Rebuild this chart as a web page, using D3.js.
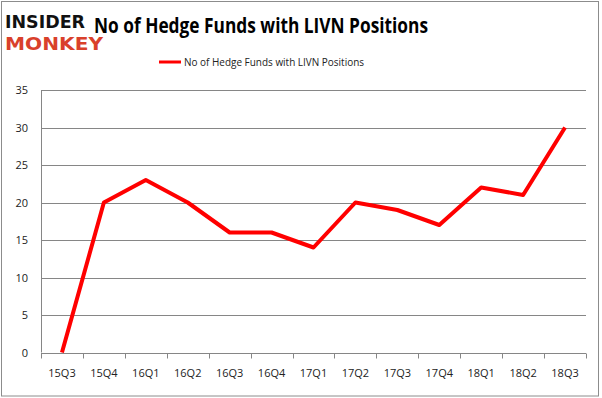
<!DOCTYPE html>
<meta charset="utf-8">
<html>
  <head>
    <title>No of Hedge Funds with LIVN Positions</title>
    <style>
      body { margin: 0; background: #fff; font-family: "Open Sans", sans-serif; }
    </style>
  </head>
  <body>
    <div id="linechart"></div>
    <script src="https://d3js.org/d3.v7.min.js"></script>
    <script>

      // data
      const quarters = ["15Q3","15Q4","16Q1","16Q2","16Q3","16Q4","17Q1","17Q2","17Q3","17Q4","18Q1","18Q2","18Q3"];
      const funds = [0, 20, 23, 20, 16, 16, 14, 20, 19, 17, 22, 21, 30];
      const yTicks = [0, 5, 10, 15, 20, 25, 30, 35];
      const seriesName = "No of Hedge Funds with LIVN Positions";

      const W = 602, H = 398;
      const margin = {top: 90, right: 16, bottom: 45, left: 41};
      const width = W - margin.left - margin.right,
            height = 352.5 - margin.top;

      const root = d3.select("#linechart")
        .append("svg")
          .attr("width", W)
          .attr("height", H);

      // outer frame
      root.append("rect")
        .attr("x", 1.5).attr("y", 1.5)
        .attr("width", W - 5).attr("height", H - 3.5)
        .attr("fill", "none")
        .attr("stroke", "#8c8c8c")
        .attr("stroke-width", 1);

      const svg = root.append("g")
        .attr("transform", `translate(${margin.left}, ${margin.top})`);

      const xScale = d3.scaleBand()
        .domain(quarters)
        .range([0, width]);

      const yScale = d3.scaleLinear()
        .domain([0, 35])
        .range([height, 0]);

      // grid lines
      svg.append("g")
        .selectAll("line")
        .data(yTicks)
        .join("line")
          .attr("x1", 0)
          .attr("x2", width)
          .attr("y1", d => Math.round(yScale(d)) + 0.5)
          .attr("y2", d => Math.round(yScale(d)) + 0.5)
          .attr("stroke", "#868686")
          .attr("stroke-width", 1);

      // y axis
      const yAxis = svg.append("g")
        .call(d3.axisLeft(yScale).tickValues(yTicks).tickSize(0).tickPadding(13));
      yAxis.select(".domain").attr("stroke", "#868686").attr("d", `M0.5,0V${height}`);
      yAxis.selectAll("text")
        .attr("font-family", "Open Sans, sans-serif")
        .attr("font-size", "11px")
        .attr("fill", "#222");

      // x axis with ticks on band edges
      const xAxis = svg.append("g")
        .attr("transform", `translate(0, ${Math.round(height) + 0.5})`)
        .call(d3.axisBottom(xScale).tickSize(0).tickPadding(16));
      xAxis.select(".domain").attr("stroke", "#868686").attr("d", `M0,0H${width}`);
      xAxis.selectAll("text")
        .attr("font-family", "Open Sans, sans-serif")
        .attr("font-size", "11px")
        .attr("fill", "#222");
      xAxis.selectAll("line.edge")
        .data(quarters.concat(["end"]))
        .join("line")
          .attr("class", "edge")
          .attr("x1", (d, i) => Math.round(i * xScale.step()) + 0.5)
          .attr("x2", (d, i) => Math.round(i * xScale.step()) + 0.5)
          .attr("y1", 0)
          .attr("y2", 5)
          .attr("stroke", "#868686");

      // the line
      const line = d3.line()
        .x((d, i) => xScale(quarters[i]) + xScale.bandwidth() / 2)
        .y(d => yScale(d));

      svg.append("path")
        .datum(funds)
        .attr("fill", "none")
        .attr("stroke", "#ff0000")
        .attr("stroke-width", 4)
        .attr("stroke-linejoin", "round")
        .attr("d", line);

      // title
      root.append("text")
        .attr("x", 94)
        .attr("y", 33)
        .attr("font-family", "Open Sans, sans-serif")
        .attr("font-weight", "bold")
        .attr("font-size", "21px")
        .attr("textLength", 334)
        .attr("lengthAdjust", "spacingAndGlyphs")
        .attr("fill", "#000")
        .text(seriesName);

      // legend
      root.append("line")
        .attr("x1", 159).attr("x2", 181)
        .attr("y1", 62).attr("y2", 62)
        .attr("stroke", "#ff0000")
        .attr("stroke-width", 3);
      root.append("text")
        .attr("x", 184)
        .attr("y", 66)
        .attr("font-family", "Open Sans, sans-serif")
        .attr("font-size", "11.5px")
        .attr("textLength", 180)
        .attr("lengthAdjust", "spacingAndGlyphs")
        .attr("fill", "#222")
        .text(seriesName);

      // logo
      root.append("text")
        .attr("x", 5).attr("y", 28)
        .attr("font-family", "DejaVu Sans, sans-serif")
        .attr("font-weight", "bold")
        .attr("font-size", "18px")
        .attr("textLength", 80)
        .attr("lengthAdjust", "spacingAndGlyphs")
        .attr("fill", "#111")
        .text("INSIDER");
      root.append("text")
        .attr("x", 5).attr("y", 50)
        .attr("font-family", "DejaVu Sans, sans-serif")
        .attr("font-weight", "bold")
        .attr("font-size", "18px")
        .attr("textLength", 98)
        .attr("lengthAdjust", "spacingAndGlyphs")
        .attr("fill", "#d9402b")
        .text("MONKEY");

    </script>
  </body>
</html>
